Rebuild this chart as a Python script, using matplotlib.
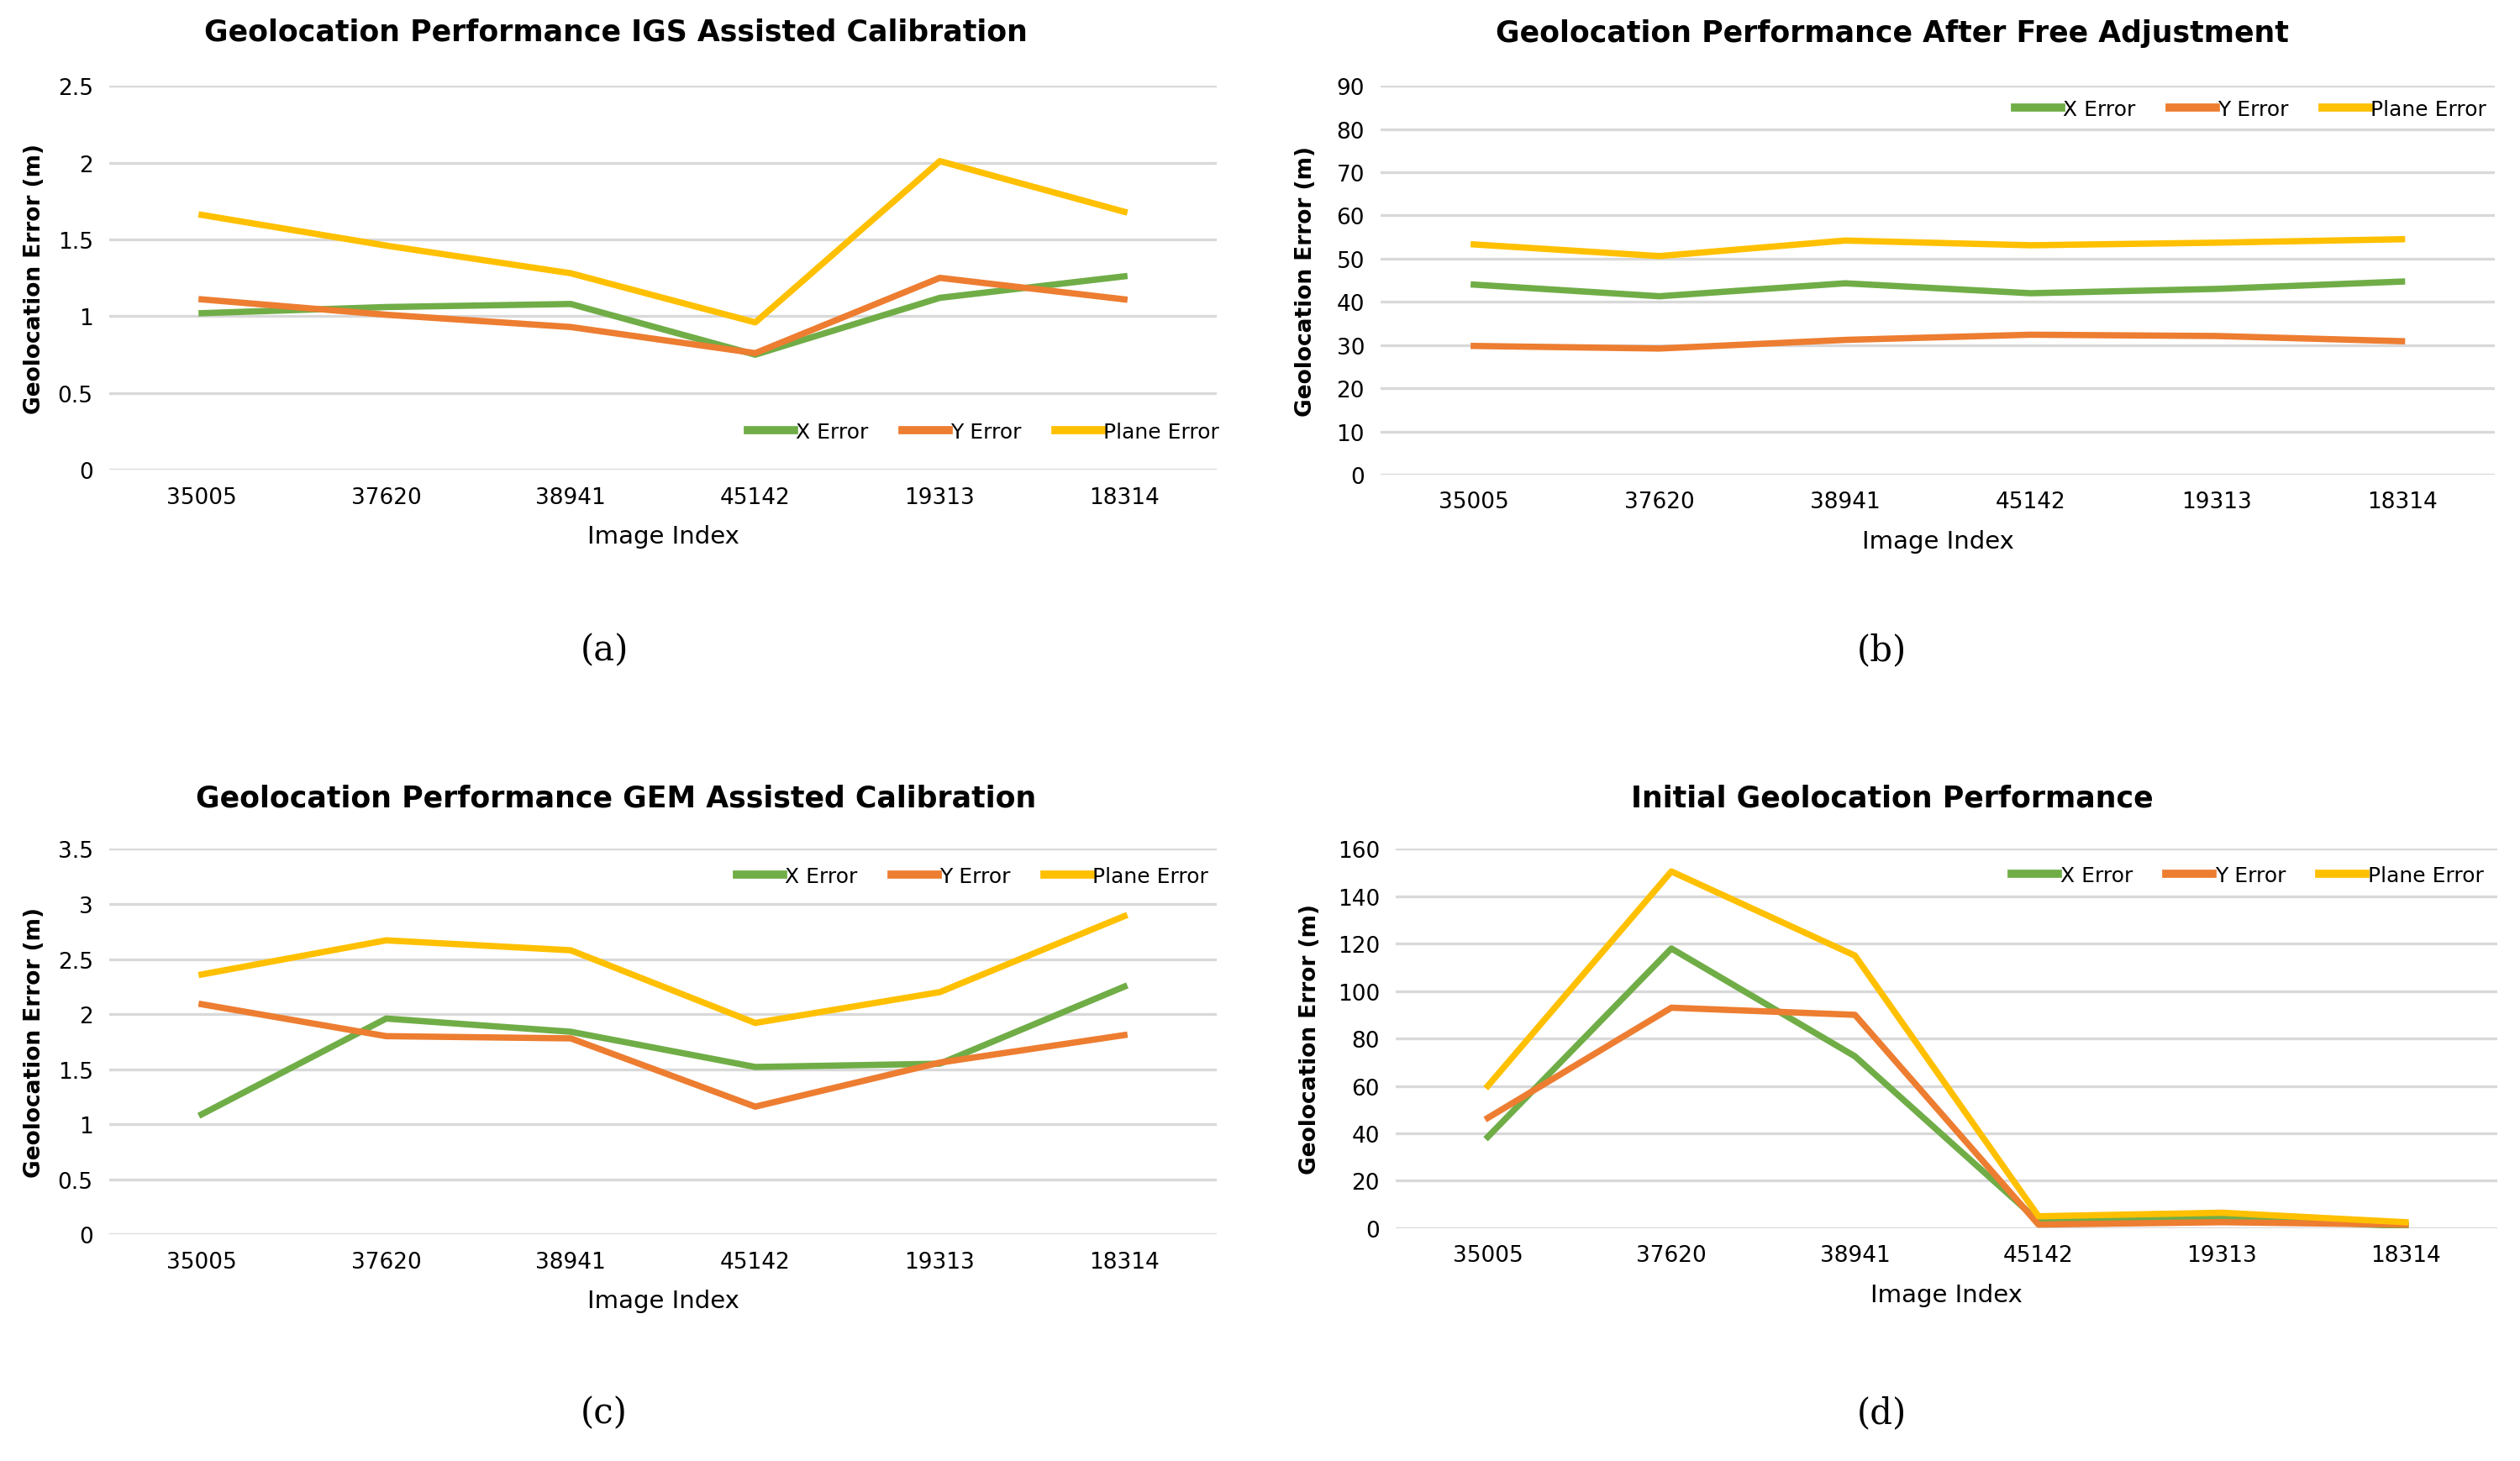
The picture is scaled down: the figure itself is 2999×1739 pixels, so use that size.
import numpy as np
import matplotlib
matplotlib.use("Agg")
import matplotlib.pyplot as plt

# image indices (categories on the x axis)
image_ids = ["35005", "37620", "38941", "45142", "19313", "18314"]

# (a) IGS assisted calibration
igs_x = [1.02, 1.06, 1.08, 0.75, 1.12, 1.26]
igs_y = [1.11, 1.01, 0.93, 0.76, 1.25, 1.11]
igs_plane = [1.66, 1.46, 1.28, 0.96, 2.01, 1.68]

# (b) after free adjustment
free_x = [44.0, 41.3, 44.3, 42.0, 43.0, 44.7]
free_y = [29.8, 29.2, 31.2, 32.4, 32.1, 30.9]
free_plane = [53.3, 50.6, 54.2, 53.1, 53.7, 54.5]

# (c) GEM assisted calibration
gem_x = [1.09, 1.96, 1.84, 1.52, 1.55, 2.25]
gem_y = [2.09, 1.80, 1.78, 1.16, 1.56, 1.81]
gem_plane = [2.36, 2.67, 2.58, 1.92, 2.20, 2.89]

# (d) initial performance
init_x = [38.5, 118.0, 72.5, 3.0, 4.5, 0.8]
init_y = [46.5, 93.0, 90.0, 1.5, 2.5, 1.5]
init_plane = [60.0, 150.5, 115.0, 5.0, 6.5, 2.5]

series_names = ["X Error", "Y Error", "Plane Error"]
colors = ["#70AD47", "#ED7D31", "#FFC000"]

fig = plt.figure(figsize=(29.99, 17.40), dpi=100)


def draw_panel(rect, title, title_xy, data, ymax, ystep, yfmt, legend_anchor, label, label_xy, ylab_x):
    ax = fig.add_axes(rect)
    x = np.arange(len(image_ids))
    for vals, name, c in zip(data, series_names, colors):
        ax.plot(x, vals, color=c, lw=5.4, label=name, solid_joinstyle="round", zorder=3)
    ax.set_xlim(-0.5, len(image_ids) - 0.5)
    ax.set_ylim(0, ymax)
    ticks = np.arange(0, ymax + ystep / 2, ystep)
    ax.set_yticks(ticks)
    ax.set_yticklabels([yfmt(t) for t in ticks], fontsize=19)
    ax.set_xticks(x)
    ax.set_xticklabels(image_ids, fontsize=19)
    ax.tick_params(length=0, pad=14)
    ax.grid(axis="y", color="#D9D9D9", lw=2.4, zorder=0)
    for s in ax.spines.values():
        s.set_visible(False)
    ax.set_xlabel("Image Index", fontsize=21, labelpad=14)
    ax.yaxis.set_label_coords(ylab_x, 0.5)
    ax.set_ylabel("Geolocation Error (m)", fontsize=19, fontweight="bold")
    leg = ax.legend(loc="center right", bbox_to_anchor=legend_anchor, ncol=3, frameon=False,
                    prop={"size": 18}, handlelength=2.2,
                    handletextpad=0.1, columnspacing=1.6, borderaxespad=0)
    for h in leg.get_lines():
        h.set_linewidth(7)
    fig.text(title_xy[0], title_xy[1], title, ha="center", va="center",
             fontsize=25, fontweight="bold")
    fig.text(label_xy[0], label_xy[1], label, ha="center", va="center",
             family="DejaVu Serif", fontsize=30)
    return ax


def fmt_dec(t):
    return "0" if t == 0 else ("%g" % t)


def fmt_int(t):
    return "%d" % t


draw_panel([0.0434, 0.678, 0.4394, 0.2627], "Geolocation Performance IGS Assisted Calibration",
           (0.2443, 0.978), [igs_x, igs_y, igs_plane], 2.5, 0.5, fmt_dec,
           (1.01, 0.1), "(a)", (0.2398, 0.555), -0.058)

draw_panel([0.548, 0.6747, 0.442, 0.266], "Geolocation Performance After Free Adjustment",
           (0.751, 0.977), [free_x, free_y, free_plane], 90, 10, fmt_int,
           (1.0, 0.94), "(b)", (0.7468, 0.555), -0.058)

draw_panel([0.0434, 0.155, 0.4394, 0.2637], "Geolocation Performance GEM Assisted Calibration",
           (0.2443, 0.454), [gem_x, gem_y, gem_plane], 3.5, 0.5, fmt_dec,
           (1.0, 0.93), "(c)", (0.2398, 0.033), -0.058)

draw_panel([0.554, 0.1593, 0.437, 0.2594], "Initial Geolocation Performance",
           (0.751, 0.454), [init_x, init_y, init_plane], 160, 20, fmt_int,
           (0.995, 0.93), "(d)", (0.7468, 0.033), -0.068)

fig.savefig("out.png", dpi=100, facecolor="white")
